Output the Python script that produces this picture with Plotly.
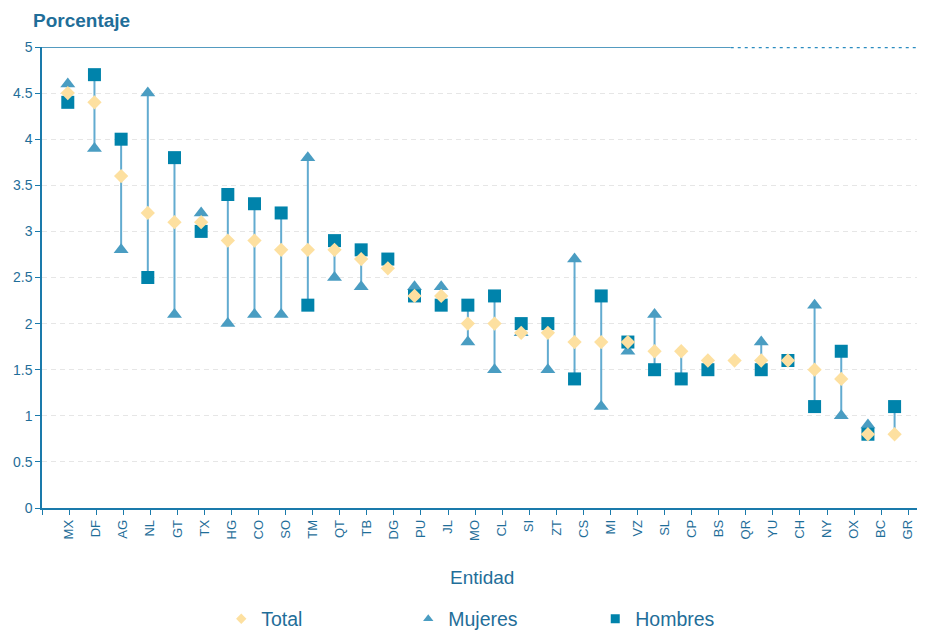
"""Dispersion por entidad: porcentaje total, mujeres y hombres."""

import plotly.graph_objects as go

# Data
entidades = ["MX", "DF", "AG", "NL", "GT", "TX", "HG", "CO", "SO", "TM", "QT",
             "TB", "DG", "PU", "JL", "MO", "CL", "SI", "ZT", "CS", "MI", "VZ",
             "SL", "CP", "BS", "QR", "YU", "CH", "NY", "OX", "BC", "GR"]
total = [4.5, 4.4, 3.6, 3.2, 3.1, 3.1, 2.9, 2.9, 2.8, 2.8, 2.8,
         2.7, 2.6, 2.3, 2.3, 2.0, 2.0, 1.9, 1.9, 1.8, 1.8, 1.8,
         1.7, 1.7, 1.6, 1.6, 1.6, 1.6, 1.5, 1.4, 0.8, 0.8]
mujeres = [4.6, 3.9, 2.8, 4.5, 2.1, 3.2, 2.0, 2.1, 2.1, 3.8, 2.5,
           2.4, None, 2.4, 2.4, 1.8, 1.5, 1.9, 1.5, 2.7, 1.1, 1.7,
           2.1, None, None, None, 1.8, None, 2.2, 1.0, 0.9, None]
hombres = [4.4, 4.7, 4.0, 2.5, 3.8, 3.0, 3.4, 3.3, 3.2, 2.2, 2.9,
           2.8, 2.7, 2.3, 2.2, 2.2, 2.3, 2.0, 2.0, 1.4, 2.3, 1.8,
           1.5, 1.4, 1.5, None, 1.5, 1.6, 1.1, 1.7, 0.8, 1.1]
y_ticks = [0, 0.5, 1, 1.5, 2, 2.5, 3, 3.5, 4, 4.5, 5]

FONT = "Liberation Sans, Arial, sans-serif"
TEXT = "#1f6e99"
AXIS = "#1a7aab"
C_TOTAL = "#fde0a0"
C_MUJ = "#4a9dc2"
C_HOM = "#0083ab"
C_LINE = "#62abd0"


def range_segments():
    """Vertical min-max segments per entity, broken with None."""
    xs, ys = [], []
    for ent, t, m, h in zip(entidades, total, mujeres, hombres):
        vals = [v for v in (t, m, h) if v is not None]
        xs += [ent, ent, None]
        ys += [min(vals), max(vals), None]
    return xs, ys


fig = go.Figure()

seg_x, seg_y = range_segments()
fig.add_trace(go.Scatter(x=seg_x, y=seg_y, mode="lines",
                         line=dict(color=C_LINE, width=2),
                         hoverinfo="skip", showlegend=False))

series = [
    ("Mujeres", mujeres, "triangle-up", C_MUJ, 13),
    ("Hombres", hombres, "square", C_HOM, 13),
    ("Total", total, "diamond", C_TOTAL, 11),
]
for name, vals, symbol, color, size in series:
    fig.add_trace(go.Scatter(
        x=entidades, y=vals, mode="markers", name=name,
        marker=dict(symbol=symbol, color=color, size=size, line=dict(width=0)),
        showlegend=False,
    ))

# small legend markers, in the reference's order
for name, symbol, color, size in [("Total", "diamond", C_TOTAL, 8),
                                  ("Mujeres", "triangle-up", C_MUJ, 9),
                                  ("Hombres", "square", C_HOM, 9)]:
    fig.add_trace(go.Scatter(x=[None], y=[None], mode="markers", name=name,
                             marker=dict(symbol=symbol, color=color, size=size)))

# the label axis needs a trace of its own to be drawn
fig.add_trace(go.Scatter(x=[None], y=[None], xaxis="x2", mode="markers",
                         hoverinfo="skip", showlegend=False))

# page body has an 8px margin, so the figure is 8px smaller than the window
fig.update_layout(
    width=917, height=622,
    margin=dict(l=34, r=0, t=39, b=122, autoexpand=False),
    paper_bgcolor="white", plot_bgcolor="white",
    font=dict(family=FONT, color=TEXT, size=13),
    legend=dict(orientation="h", x=0.203, xanchor="left", y=-0.241,
                yanchor="middle", entrywidth=142, entrywidthmode="pixels",
                font=dict(size=19.5, color=TEXT), itemclick=False),
    xaxis=dict(type="category", range=[-0.967, 32.14], showticklabels=False,
               ticks="", showgrid=False, showline=False, zeroline=False),
    xaxis2=dict(overlaying="x", anchor="y", side="bottom", range=[-1, 31.62],
                tickmode="array", tickvals=list(range(-1, 32)),
                ticktext=[""] + entidades, tickangle=-90,
                ticks="outside", ticklen=5, tickcolor=AXIS,
                tickfont=dict(size=13, color=TEXT), automargin=False,
                showline=True, linecolor=AXIS, linewidth=1.5,
                showgrid=False, zeroline=False),
    yaxis=dict(range=[0, 5], tickvals=y_ticks, ticktext=[f"{v:g}" for v in y_ticks],
               ticks="outside", ticklen=5, tickcolor=AXIS, automargin=False,
               tickfont=dict(size=14, color=TEXT),
               showline=True, linecolor=AXIS, linewidth=1.5,
               showgrid=True, gridcolor="#e6e6e6", griddash="5px,4px",
               zeroline=False),
    annotations=[
        dict(text="<b>Porcentaje</b>", xref="paper", yref="paper",
             x=-0.012, y=1.058, xanchor="left", yanchor="middle",
             showarrow=False, font=dict(size=19, color=TEXT)),
        dict(text="Entidad", xref="paper", yref="paper",
             x=0.498, y=-0.15, xanchor="center", yanchor="middle",
             showarrow=False, font=dict(size=19, color=TEXT)),
    ],
    shapes=[
        dict(type="line", xref="paper", yref="y", x0=0, x1=0.78, y0=5, y1=5,
             line=dict(color=AXIS, width=1.5)),
        dict(type="line", xref="paper", yref="y", x0=0.78, x1=1, y0=5, y1=5,
             line=dict(color="#2b8cc0", width=2.5, dash="3px,4px")),
    ],
)

fig.write_html("out.html")
